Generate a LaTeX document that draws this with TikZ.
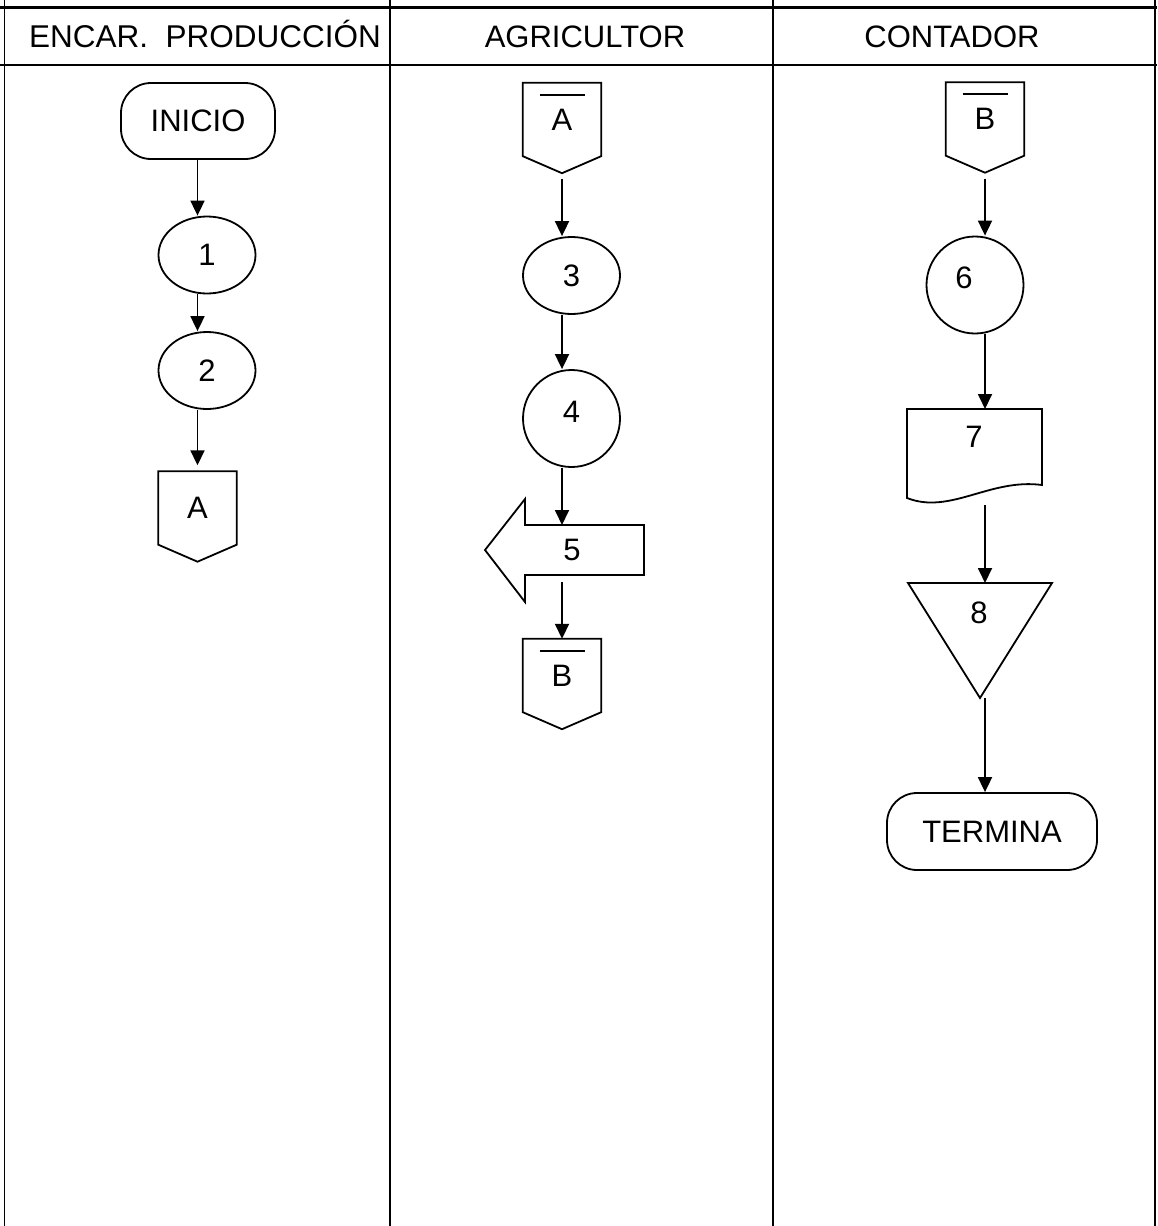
\documentclass[tikz,border=0pt]{standalone}
\usepackage{fontspec}
\setmainfont{Liberation Sans}
\usetikzlibrary{arrows.meta,shapes.geometric}

\newcommand{\lbl}{\fontsize{31}{37}\selectfont}
% off-page connector: box with a point underneath
\newcommand{\offpage}[1]{%
  \draw[figline] (#1.north west) -- (#1.north east) -- (#1.south east)
    -- ([yshift=-17pt]#1.south) -- (#1.south west) -- cycle;
  \coordinate (#1 tip) at ([yshift=-17pt]#1.south);}
\newcommand{\offpagebar}[1]{%
  \offpage{#1}
  \draw[figline] ([xshift=-22.5pt,yshift=-12pt]#1.north) -- ++(45,0);}

\tikzset{
  figline/.style={line width=1.8pt},
  lane/.style={line width=1.9pt},
  term/.style={draw, figline, rounded corners=30pt, minimum width=154pt,
               minimum height=76pt, inner sep=0pt},
  proc/.style={draw, figline, ellipse, minimum width=97pt,
               minimum height=77pt, inner sep=0pt},
  conn/.style={minimum width=78pt, minimum height=73pt, inner sep=0pt},
  flow/.style={figline, -{Triangle[length=15pt,width=14pt]}},
}

\begin{document}
\begin{tikzpicture}[x=1pt,y=-1pt,every node/.style={font=\lbl}]
  \useasboundingbox (0,0) rectangle (1157,1226);

  % lanes and header
  \draw[lane, line width=2.5pt] (0,7.5) -- (1157,7.5);
  \draw[lane, line width=2.5pt] (0,65) -- (1157,65);
  \foreach \x in {4.5,390,773,1155}
    \draw[lane] (\x,0) -- (\x,1226);

  \node[anchor=base, font=\fontsize{31.5}{37}\selectfont] (h1) at (205,47) {ENCAR.\ \ PRODUCCIÓN};
  \node[anchor=base] (h2) at (585,47) {AGRICULTOR};
  \node[anchor=base] (h3) at (952,47) {CONTADOR};

  % encargado de produccion
  \node[term] (inicio) at (198,121)   {INICIO};
  \node[proc] (p1)     at (207,255)   {1};
  \node[proc] (p2)     at (207,370.5) {2};
  \node[conn] (ca)     at (197.5,508) {A};
  \offpage{ca}

  % agricultor
  \node[conn] (ca2) at (562,119.5) {A};
  \offpagebar{ca2}
  \node[proc] (p3) at (571.5,275.5) {3};
  \node[proc, minimum height=97pt, text depth=13pt] (p4) at (571.5,418.5) {4};
  \node (p5) at (572,550) {5};
  \draw[figline] (644,525) -- (644,575) -- (525,575) -- (525,602)
    -- (485,550) -- (525,499) -- (525,525) -- cycle;
  \coordinate (p5 top) at (562,525);
  \coordinate (p5 bot) at (562,575);
  \node[conn] (cb) at (562,675.5) {B};
  \offpagebar{cb}

  % contador
  \node[conn] (cb2) at (985,119) {B};
  \offpagebar{cb2}
  \node[proc, minimum height=97pt,
        label={[xshift=-11pt,yshift=7pt]center:6}] (p6) at (975,285) {};
  \node (p7) at (974,437) {7};
  \draw[figline] (907,409) -- (1042,409) -- (1042,485)
    .. controls (990,478) and (950,515) .. (907,498) -- cycle;
  \coordinate (p7 top) at (985,409);
  \coordinate (p7 bot) at (985,493);
  \node (p8) at (979,613) {8};
  \draw[figline] (908,583) -- (1052,583) -- (980,698) -- cycle;
  \coordinate (p8 top) at (985,583);
  \coordinate (p8 bot) at (985,698);
  \node[term, minimum width=210pt, minimum height=77pt] (fin) at (992,831.5) {TERMINA};

  \path[flow] (inicio.south -| ca) edge (ca |- p1.north)
              (ca |- p1.south)     edge (ca |- p2.north)
              (ca |- p2.south)     edge [shorten >=6pt] (ca.north)
              (ca2 tip)            edge [shorten <=6pt] (ca2 |- p3.north)
              (ca2 |- p3.south)    edge (ca2 |- p4.north)
              (ca2 |- p4.south)    edge (p5 top)
              (p5 bot)             edge [shorten <=7pt] (cb.north)
              (cb2 tip)            edge [shorten <=6pt] (cb2 |- p6.north)
              (cb2 |- p6.south)    edge (p7 top)
              (p7 bot)             edge [shorten <=12pt] (p8 top)
              (p8 bot)             edge (cb2 |- fin.north);
\end{tikzpicture}
\end{document}
